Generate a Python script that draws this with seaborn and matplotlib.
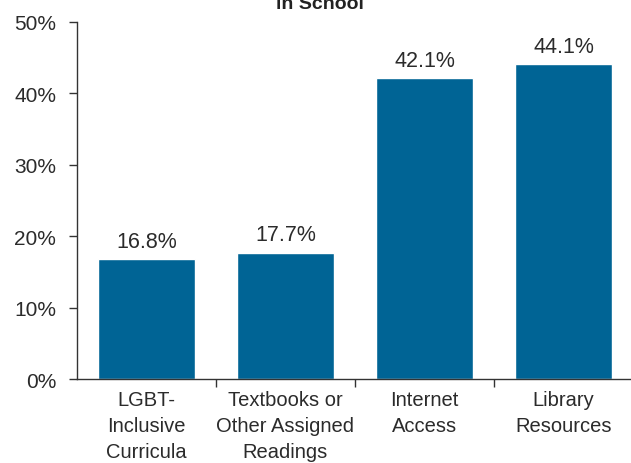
import matplotlib
matplotlib.use("Agg")
import matplotlib.pyplot as plt
import seaborn as sns
import pandas as pd
from matplotlib.ticker import FixedLocator, PercentFormatter

# chart data
categories = [
    "LGBT-\nInclusive\nCurricula",
    "Textbooks or\nOther Assigned\nReadings",
    "Internet\nAccess",
    "Library\nResources",
]
percentages = [16.8, 17.7, 42.1, 44.1]
y_ticks = [0, 10, 20, 30, 40, 50]

df = pd.DataFrame({"Category": categories, "Percent": percentages})

sns.set_theme(style="white")
plt.rcParams["font.family"] = ["Liberation Sans Narrow", "Liberation Sans", "DejaVu Sans"]

bar_color = "#006495"
text_color = "#2b2b2b"

fig = plt.figure(figsize=(6.31, 4.64), dpi=100)
ax = fig.add_axes([77 / 631, 1 - 380 / 464, (633 - 77) / 631, (380 - 23) / 464])

sns.barplot(data=df, x="Category", y="Percent", color=bar_color, width=0.7,
            saturation=1, ax=ax)

for i, v in enumerate(percentages):
    ax.text(i, v + 1.0, f"{v:.1f}%", ha="center", va="bottom",
            fontsize=15.5, color=text_color)

ax.set_ylim(0, 50)
ax.set_xlim(-0.5, 3.5)
ax.set_yticks(y_ticks)
ax.yaxis.set_major_formatter(PercentFormatter(decimals=0))
ax.set_xlabel("")
ax.set_ylabel("")

for lbl in ax.get_xticklabels():
    lbl.set_linespacing(1.45)

# tick marks between categories, labels without marks
ax.xaxis.set_minor_locator(FixedLocator([0.5, 1.5, 2.5]))
ax.tick_params(axis="x", which="major", length=0, labelsize=14.5, pad=8,
               labelcolor=text_color)
ax.tick_params(axis="x", which="minor", length=6, width=1, color="#333333",
               direction="out", bottom=True)
ax.tick_params(axis="y", length=6, width=1, color="#333333", direction="out",
               left=True, labelsize=15, labelcolor=text_color, pad=9)

for s in ["top", "right"]:
    ax.spines[s].set_visible(False)
for s in ["left", "bottom"]:
    ax.spines[s].set_color("#333333")
    ax.spines[s].set_linewidth(1)

# title, mostly cropped above the figure
fig.text(320 / 631, 1 - 13 / 464, "in School", ha="center", va="bottom",
         fontsize=14, fontweight="bold", color="#222222")

fig.savefig("out.png", dpi=100)
